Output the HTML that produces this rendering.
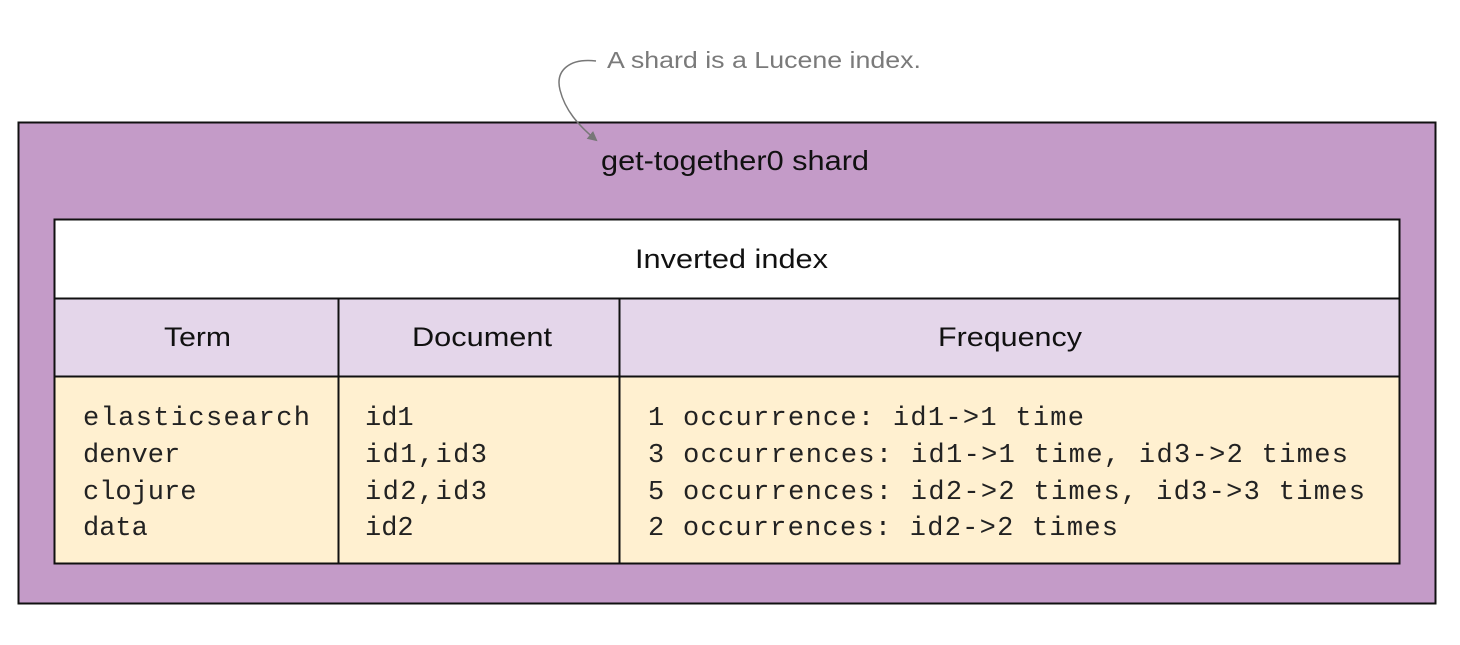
<!DOCTYPE html>
<html><head><meta charset="utf-8"><style>
html,body{margin:0;padding:0;background:#fff;}
svg{display:block}
.s{font-family:"Liberation Sans",sans-serif;fill:#111}
.m{font-family:"Liberation Mono",monospace;font-size:27px;fill:#222}
</style></head><body>
<svg width="1460" height="645" viewBox="0 0 1460 645" xmlns="http://www.w3.org/2000/svg">
<defs><marker id="ah" markerWidth="10" markerHeight="10" refX="8" refY="5" orient="auto" markerUnits="userSpaceOnUse"><path d="M0,0 L10,5 L0,10 z" fill="#777"/></marker></defs>
<rect x="18.5" y="122.5" width="1417" height="481" fill="#c49bc8" stroke="#111" stroke-width="2"/>
<text class="s" x="601" y="170" font-size="28" textLength="268" lengthAdjust="spacingAndGlyphs">get-together0 shard</text>
<text class="s" x="607" y="68" font-size="23" textLength="314" lengthAdjust="spacingAndGlyphs" style="fill:#7a7a7a">A shard is a Lucene index.</text>
<path d="M596,61 C570,58 555,70 560,90 C565,110 578,125 596,140" fill="none" stroke="#777" stroke-width="1.5" marker-end="url(#ah)"/>
<rect x="54.5" y="219.5" width="1345" height="79" fill="#fff" stroke="#111" stroke-width="2"/>
<rect x="54.5" y="298.5" width="1345" height="78" fill="#e4d6ea" stroke="#111" stroke-width="2"/>
<rect x="54.5" y="376.5" width="1345" height="187" fill="#fff0d0" stroke="#111" stroke-width="2"/>
<line x1="338.5" y1="298" x2="338.5" y2="563" stroke="#111" stroke-width="2"/>
<line x1="619.5" y1="298" x2="619.5" y2="563" stroke="#111" stroke-width="2"/>
<text class="s" x="635" y="268" font-size="27" textLength="193" lengthAdjust="spacingAndGlyphs">Inverted index</text>
<text class="s" x="164" y="346" font-size="27" textLength="67" lengthAdjust="spacingAndGlyphs">Term</text>
<text class="s" x="412" y="346" font-size="27" textLength="140" lengthAdjust="spacingAndGlyphs">Document</text>
<text class="s" x="938" y="346" font-size="27" textLength="144" lengthAdjust="spacingAndGlyphs">Frequency</text>
<g class="m">
<text x="83" y="425" textLength="227">elasticsearch</text>
<text x="83" y="462">denver</text>
<text x="83" y="499">clojure</text>
<text x="83" y="535">data</text>
<text x="365" y="425">id1</text>
<text x="365" y="462" textLength="122">id1,id3</text>
<text x="365" y="499" textLength="122">id2,id3</text>
<text x="365" y="535">id2</text>
<text x="648" y="425" textLength="436">1 occurrence: id1-&gt;1 time</text>
<text x="648" y="462" textLength="700">3 occurrences: id1-&gt;1 time, id3-&gt;2 times</text>
<text x="648" y="499" textLength="717">5 occurrences: id2-&gt;2 times, id3-&gt;3 times</text>
<text x="648" y="535" textLength="470">2 occurrences: id2-&gt;2 times</text>
</g>
</svg>
</body></html>
